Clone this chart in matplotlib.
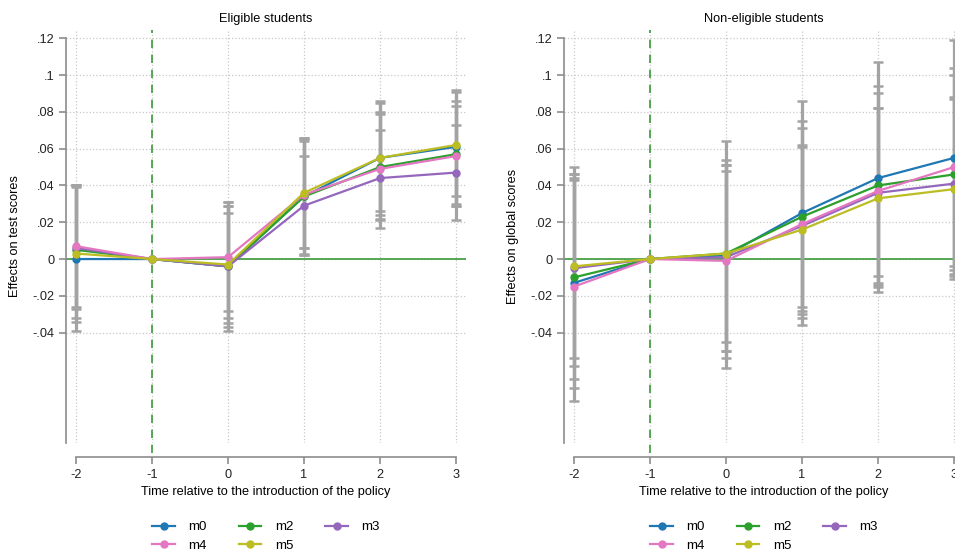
import matplotlib.pyplot as plt
import numpy as np

plt.rcParams['font.family'] = ['Liberation Sans', 'DejaVu Sans']
plt.rcParams['axes.unicode_minus'] = False

# event time
periods = [-2, -1, 0, 1, 2, 3]
models = ['m0', 'm2', 'm3', 'm4', 'm5']
colors = {'m0': '#1f77b4', 'm2': '#2ca02c', 'm3': '#9467bd',
          'm4': '#e377c2', 'm5': '#bcbd22'}

# Eligible students (test scores)
elig_est = {
    'm0': [0.000, 0, -0.004, 0.034, 0.055, 0.061],
    'm2': [0.005, 0, -0.004, 0.034, 0.050, 0.057],
    'm3': [0.006, 0, -0.004, 0.029, 0.044, 0.047],
    'm4': [0.007, 0, 0.001, 0.035, 0.049, 0.056],
    'm5': [0.003, 0, -0.003, 0.036, 0.055, 0.062],
}
elig_lo = {
    'm0': [-0.039, 0, -0.039, 0.002, 0.024, 0.030],
    'm2': [-0.032, 0, -0.037, 0.003, 0.021, 0.029],
    'm3': [-0.027, 0, -0.035, 0.002, 0.017, 0.021],
    'm4': [-0.026, 0, -0.028, 0.006, 0.022, 0.029],
    'm5': [-0.034, 0, -0.032, 0.006, 0.026, 0.034],
}
elig_hi = {
    'm0': [0.039, 0, 0.031, 0.066, 0.086, 0.091],
    'm2': [0.040, 0, 0.029, 0.065, 0.080, 0.086],
    'm3': [0.040, 0, 0.029, 0.056, 0.070, 0.073],
    'm4': [0.040, 0, 0.031, 0.064, 0.079, 0.083],
    'm5': [0.040, 0, 0.025, 0.066, 0.085, 0.092],
}

# Non-eligible students (global scores)
non_est = {
    'm0': [-0.013, 0, 0.002, 0.025, 0.044, 0.055],
    'm2': [-0.010, 0, 0.003, 0.023, 0.040, 0.046],
    'm3': [-0.005, 0, 0.001, 0.018, 0.036, 0.041],
    'm4': [-0.015, 0, -0.001, 0.019, 0.037, 0.050],
    'm5': [-0.004, 0, 0.003, 0.016, 0.033, 0.038],
}
non_lo = {
    'm0': [-0.070, 0, -0.059, -0.036, -0.018, -0.009],
    'm2': [-0.065, 0, -0.050, -0.028, -0.014, -0.008],
    'm3': [-0.054, 0, -0.050, -0.032, -0.009, -0.006],
    'm4': [-0.077, 0, -0.054, -0.030, -0.015, -0.004],
    'm5': [-0.058, 0, -0.045, -0.026, -0.013, -0.011],
}
non_hi = {
    'm0': [0.044, 0, 0.064, 0.086, 0.107, 0.119],
    'm2': [0.046, 0, 0.054, 0.075, 0.094, 0.100],
    'm3': [0.043, 0, 0.051, 0.071, 0.082, 0.088],
    'm4': [0.046, 0, 0.051, 0.062, 0.090, 0.104],
    'm5': [0.050, 0, 0.048, 0.061, 0.082, 0.087],
}

yticks = [-0.04, -0.02, 0, 0.02, 0.04, 0.06, 0.08, 0.1, 0.12]
yticklabels = ['-.04', '-.02', '0', '.02', '.04', '.06', '.08', '.1', '.12']

W, H = 955, 553
fig = plt.figure(figsize=(W / 100, H / 100), dpi=100)
ax_l = fig.add_axes([66 / W, 1 - 443 / H, 400 / W, 413 / H])
ax_r = fig.add_axes([564 / W, 1 - 443 / H, 400 / W, 413 / H])

axis_grey = '#8c8c8c'
fs = 9.2


def draw_panel(ax, est, lo, hi, title, ylabel):
    x = np.array(periods)
    for m in models:
        e = np.array(est[m])
        l = np.array(lo[m])
        h = np.array(hi[m])
        keep = h > l
        ax.errorbar(x[keep], e[keep], yerr=[e[keep] - l[keep], h[keep] - e[keep]],
                    fmt='none', ecolor='#a3a3a3', elinewidth=2.3,
                    capsize=3.5, capthick=1.8, zorder=3, clip_on=False)
    ax.axhline(0, color='#3a9a3a', lw=1.2, zorder=2)
    ax.axvline(-1, ymin=-10 / 413, ymax=1.0, color='#3a9a3a', lw=1.2,
               ls=(0, (5, 4)), zorder=2, clip_on=False)
    for m in models:
        ax.plot(x, est[m], color=colors[m], lw=1.6, marker='o', ms=5,
                label=m, zorder=4, clip_on=False)

    ax.set_xlim(-2.13, 3.13)
    ax.set_ylim(-0.1, 0.1245)
    ax.set_xticks(periods)
    ax.set_yticks(yticks)
    ax.set_yticklabels(yticklabels)
    ax.grid(True, color='#c8c8c8', ls=':', lw=0.9)
    ax.set_axisbelow(True)

    for s in ['top', 'right']:
        ax.spines[s].set_visible(False)
    ax.spines['bottom'].set_position(('outward', 10))
    ax.spines['bottom'].set_bounds(-2, 3)
    ax.spines['left'].set_bounds(-0.1, 0.12)
    for s in ['bottom', 'left']:
        ax.spines[s].set_color(axis_grey)
        ax.spines[s].set_linewidth(1.2)
    ax.tick_params(colors=axis_grey, labelcolor='#222222', labelsize=fs,
                   length=5, width=1.2)

    ax.set_title(title, fontsize=fs, pad=6)
    ax.set_ylabel(ylabel, fontsize=fs, labelpad=8)
    ax.set_xlabel('Time relative to the introduction of the policy',
                  fontsize=fs, labelpad=4)

    handles, labels = ax.get_legend_handles_labels()
    order = [0, 3, 1, 4, 2]  # fill columns as m0/m4, m2/m5, m3
    ax.legend([handles[i] for i in order], [labels[i] for i in order],
              ncol=3, loc='upper center', bbox_to_anchor=(0.5, -0.16),
              frameon=False, fontsize=9.6, handlelength=1.7,
              columnspacing=2.4, labelspacing=0.45, handletextpad=1.0)


draw_panel(ax_l, elig_est, elig_lo, elig_hi, 'Eligible students',
           'Effects on test scores')
draw_panel(ax_r, non_est, non_lo, non_hi, 'Non-eligible students',
           'Effects on global scores')

fig.savefig('out.png', dpi=100)
